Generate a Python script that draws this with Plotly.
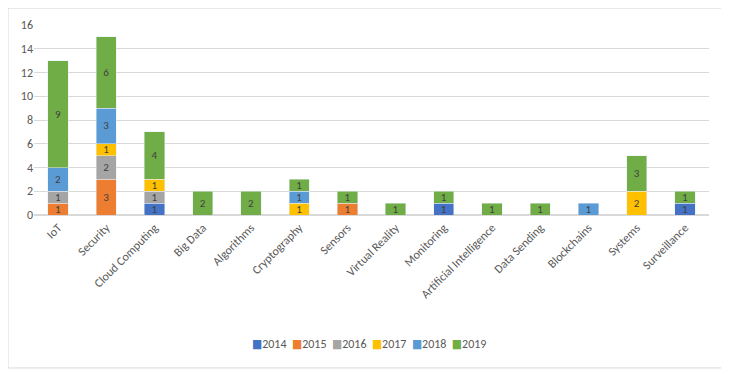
import plotly.graph_objects as go

categories = ["IoT", "Security", "Cloud Computing", "Big Data", "Algorithms", "Cryptography",
              "Sensors", "Virtual Reality", "Monitoring", "Artificial Intelligence",
              "Data Sending", "Blockchains", "Systems", "Surveillance"]
years = ["2014", "2015", "2016", "2017", "2018", "2019"]
v2014 = [None, None, 1, None, None, None, None, None, 1, None, None, None, None, 1]
v2015 = [1, 3, None, None, None, None, 1, None, None, None, None, None, None, None]
v2016 = [1, 2, 1, None, None, None, None, None, None, None, None, None, None, None]
v2017 = [None, 1, 1, None, None, 1, None, None, None, None, None, None, 2, None]
v2018 = [2, 3, None, None, None, 1, None, None, None, None, None, 1, None, None]
v2019 = [9, 6, 4, 2, 2, 1, 1, 1, 1, 1, 1, None, 3, 1]
series = [v2014, v2015, v2016, v2017, v2018, v2019]
colors = ["#4472C4", "#ED7D31", "#A5A5A5", "#FFC000", "#5B9BD5", "#70AD47"]

FONT = "Carlito, 'Liberation Sans Narrow', 'DejaVu Sans Condensed', 'Liberation Sans', sans-serif"

fig = go.Figure()
for name, vals, col in zip(years, series, colors):
    fig.add_trace(go.Bar(
        x=categories, y=vals, name=name, marker_color=col,
        text=[str(v) if v else "" for v in vals], textposition="inside",
        insidetextanchor="middle", textangle=0, constraintext="none",
        textfont=dict(color="#404040", size=11, family=FONT),
        showlegend=False,
    ))

legend_text = "&nbsp;&nbsp;".join(
    f"<span style='color:{c}'>■</span>{y}" for y, c in zip(years, colors)
)
fig.add_annotation(text=legend_text, xref="paper", yref="paper", x=0.496, y=-0.679,
                   xanchor="center", yanchor="middle", showarrow=False,
                   font=dict(size=12, color="#595959", family=FONT))

fig.update_layout(
    barmode="stack", bargap=0.58,
    width=720, height=365,
    margin=dict(l=26, r=19, t=17, b=158),
    paper_bgcolor="white", plot_bgcolor="white",
    font=dict(family=FONT, size=12, color="#595959"),
    uniformtext=dict(minsize=11, mode="show"),
    showlegend=False,
)
fig.update_yaxes(range=[0, 16], dtick=2, showgrid=True, gridcolor="#D9D9D9", gridwidth=1,
                 zeroline=True, zerolinecolor="#D9D9D9", showline=False, ticks="",
                 automargin=False, tickfont=dict(size=12, color="#595959"))
fig.update_xaxes(tickangle=-45, showline=True, linecolor="#D9D9D9", ticks="",
                 automargin=False, tickfont=dict(size=12, color="#595959"))
fig.add_shape(type="rect", xref="paper", yref="paper", x0=-0.0385, x1=1.019, y0=-0.805, y1=1.089,
              line=dict(color="#D9D9D9", width=1), fillcolor="rgba(0,0,0,0)", layer="below")
fig.write_html("out.html")
